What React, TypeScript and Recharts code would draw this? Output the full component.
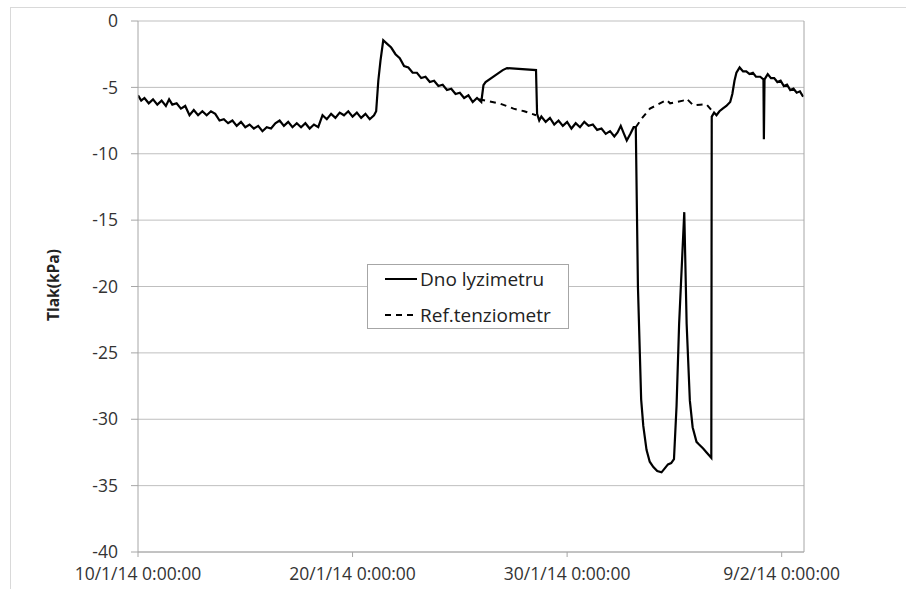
import { LineChart, Line, XAxis, YAxis, CartesianGrid } from "recharts";

// days counted from 10/1/14 0:00:00
const dnoDays = [
  0, 0.15, 0.3, 0.5, 0.7, 0.9, 1.1, 1.3, 1.45, 1.6, 1.8, 2.0, 2.2, 2.4, 2.6, 2.8, 3.0, 3.2, 3.4, 3.6,
  3.8, 4.0, 4.2, 4.4, 4.6, 4.8, 5.0, 5.2, 5.4, 5.6, 5.8, 6.0, 6.2, 6.4, 6.6, 6.8, 7.0, 7.2, 7.4, 7.6,
  7.8, 8.0, 8.2, 8.4, 8.6, 8.8, 9.0, 9.2, 9.4, 9.6, 9.8, 10.0, 10.2, 10.4, 10.6, 10.8, 11.0,
  11.1, 11.2, 11.3, 11.43, 11.6, 11.8, 12.0, 12.2, 12.4, 12.6, 12.8, 13.0, 13.2, 13.4, 13.6, 13.8,
  14.0, 14.2, 14.4, 14.6, 14.8, 15.0, 15.2, 15.4, 15.6, 15.8, 16.0,
  16.1, 16.2, 17.0, 17.2, 18.55, 18.6,
  18.7, 18.8, 19.0, 19.2, 19.4, 19.6, 19.8, 20.0, 20.2, 20.4, 20.6, 20.8, 21.0, 21.2, 21.4, 21.6,
  21.8, 22.0, 22.2, 22.35, 22.5, 22.65, 22.78, 22.95, 23.1, 23.2,
  23.3, 23.45, 23.55, 23.7, 23.85, 24.02, 24.2, 24.4, 24.55, 24.7, 24.85, 24.98, 25.1, 25.22,
  25.46, 25.57, 25.72, 25.85, 26.03, 26.15, 26.34, 26.5, 26.72, 26.74,
  26.85, 26.96, 27.1, 27.25, 27.42, 27.6, 27.7, 27.8, 27.89, 28.04, 28.2, 28.35, 28.5, 28.66,
  28.8, 29.0, 29.15, 29.17, 29.2, 29.35, 29.5, 29.65, 29.8, 29.95, 30.1, 30.25, 30.4, 30.55,
  30.7, 30.85, 31.0,
];
const dnoKpa = [
  -5.6, -6.0, -5.8, -6.2, -5.9, -6.3, -6.0, -6.4, -5.9, -6.3, -6.2, -6.6, -6.4, -7.1, -6.7, -7.1, -6.8, -7.1, -6.8, -7.0,
  -7.5, -7.4, -7.7, -7.5, -7.9, -7.6, -8.0, -7.8, -8.1, -7.9, -8.3, -8.0, -8.1, -7.7, -7.5, -7.9, -7.6, -8.0, -7.7, -8.0,
  -7.7, -8.1, -7.8, -8.0, -7.1, -7.4, -7.0, -7.3, -6.9, -7.1, -6.8, -7.2, -6.9, -7.3, -7.0, -7.4, -7.1,
  -6.8, -4.5, -3.0, -1.45, -1.7, -2.0, -2.5, -2.8, -3.4, -3.5, -3.9, -3.9, -4.3, -4.2, -4.6, -4.5,
  -4.9, -4.8, -5.2, -5.1, -5.5, -5.4, -5.8, -5.6, -6.1, -5.8, -6.1,
  -4.84, -4.6, -3.7, -3.55, -3.7, -7.0,
  -7.5, -7.2, -7.6, -7.3, -7.8, -7.5, -7.9, -7.6, -8.1, -7.7, -8.0, -7.6, -7.9, -7.8, -8.2, -8.1,
  -8.5, -8.3, -8.7, -8.4, -7.9, -8.5, -9.0, -8.5, -8.0, -8.0,
  -20.0, -28.5, -30.5, -32.3, -33.2, -33.6, -33.9, -34.0, -33.7, -33.4, -33.3, -33.0, -29.0, -22.8,
  -14.4, -22.8, -28.6, -30.6, -31.7, -31.9, -32.2, -32.5, -32.9, -7.2,
  -6.9, -7.1, -6.8, -6.6, -6.4, -6.1, -5.5, -4.5, -3.9, -3.5, -3.8, -3.8, -4.0, -3.9,
  -4.2, -4.2, -4.4, -8.9, -4.4, -4.0, -4.3, -4.3, -4.6, -4.5, -4.9, -4.8, -5.2, -5.1,
  -5.4, -5.3, -5.7,
];

// reference tensiometer, only where it departs from the lysimeter line
const refDays = [15.9, 16.87, 17.5, 18.0, 18.55, 21.0, 23.2, 23.5, 23.86, 24.16, 24.64, 24.8, 25.1, 25.4, 25.57, 25.88, 26.2, 26.49, 26.73, 26.85];
const refKpa = [-5.9, -6.22, -6.6, -6.8, -7.1, null, -8.0, -7.3, -6.6, -6.35, -5.95, -6.2, -6.1, -6.0, -5.85, -6.35, -6.3, -6.27, -6.72, -6.9];

const xTicks = [0, 10, 20, 30];
const xTickLabels = ["10/1/14 0:00:00", "20/1/14 0:00:00", "30/1/14 0:00:00", "9/2/14 0:00:00"];
const yTicks = [-40, -35, -30, -25, -20, -15, -10, -5, 0];

const dnoData = dnoDays.map((d, i) => ({ day: d, kpa: dnoKpa[i] }));
const refData = refDays.map((d, i) => ({ day: d, kpa: refKpa[i] }));

const FONT = "'Open Sans', Lato, sans-serif";
const tickStyle = { fontSize: 17.5, fill: "#333", fontFamily: FONT };
const axisGray = "#a6a6a6";

export default function App() {
  return (
    <div style={{ position: "absolute", left: 0, top: 0, width: 906, height: 589, overflow: "hidden", background: "#fff" }}>
      <div style={{ position: "absolute", left: 10, top: 7, width: 1000, height: 1000, border: "1px solid #d9d9d9" }} />
      <LineChart width={906} height={589} margin={{ top: 21, right: 42, bottom: 7, left: 0 }}>
        <CartesianGrid yAxisId="left" horizontal vertical={false} stroke="#bfbfbf" />
        <XAxis dataKey="day" type="number" domain={[0, 31.04]} ticks={xTicks} allowDataOverflow
          tickFormatter={(v) => xTickLabels[xTicks.indexOf(v)] ?? ""} height={30}
          tick={tickStyle} tickSize={5} tickMargin={11} stroke={axisGray} interval={0} />
        <YAxis yAxisId="left" orientation="left" domain={[-40, 0]} ticks={yTicks} width={138}
          tick={tickStyle} tickSize={7} tickMargin={13} stroke={axisGray} interval={0} />
        <YAxis yAxisId="right" orientation="right" domain={[-40, 0]} ticks={yTicks} width={60}
          tick={{ ...tickStyle, textAnchor: "start" }} tickSize={7} tickMargin={12} stroke={axisGray} interval={0} />
        <Line yAxisId="left" data={refData} dataKey="kpa" name="Ref.tenziometr" type="linear"
          stroke="#000" strokeWidth={2} strokeDasharray="6 5" dot={false} connectNulls={false} isAnimationActive={false} />
        <Line yAxisId="left" data={dnoData} dataKey="kpa" name="Dno lyzimetru" type="linear"
          stroke="#000" strokeWidth={2.2} dot={false} isAnimationActive={false} />
      </LineChart>
      <div style={{
        position: "absolute", left: 53, top: 285, transform: "translate(-50%, -50%) rotate(-90deg)",
        fontFamily: FONT, fontWeight: 700, fontSize: 15.5, color: "#222", whiteSpace: "nowrap",
      }}>Tlak(kPa)</div>
      <div style={{
        position: "absolute", left: 367, top: 264, width: 200, height: 63, border: "1px solid #a6a6a6",
        background: "#fff", fontFamily: FONT, fontSize: 19, color: "#222",
      }}>
        <div style={{ position: "absolute", left: 17, top: 0, height: 28, display: "flex", alignItems: "center", gap: 3 }}>
          <svg width={32} height={4}><line x1={0} y1={2} x2={32} y2={2} stroke="#000" strokeWidth={2} /></svg>
          <span>Dno lyzimetru</span>
        </div>
        <div style={{ position: "absolute", left: 17, top: 36, height: 28, display: "flex", alignItems: "center", gap: 3 }}>
          <svg width={32} height={4}><line x1={0} y1={2} x2={32} y2={2} stroke="#000" strokeWidth={2} strokeDasharray="6 5" /></svg>
          <span>Ref.tenziometr</span>
        </div>
      </div>
    </div>
  );
}
